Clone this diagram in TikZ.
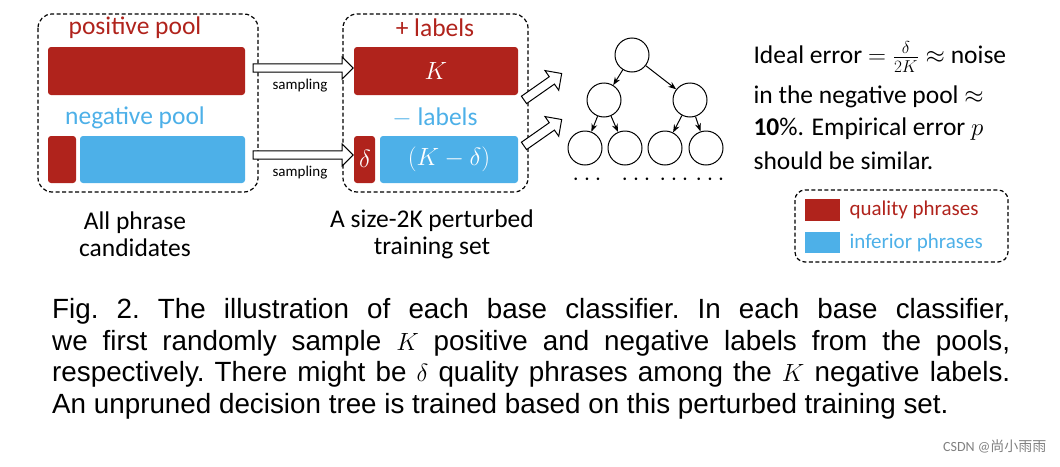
\documentclass[tikz,border=0pt]{standalone}
\usepackage{fontspec}
\setmainfont{Carlito}
\newfontfamily\capf{Liberation Sans}
\newfontfamily\cjk{Noto Sans CJK SC}
\usetikzlibrary{arrows.meta,shapes.arrows}
\definecolor{qred}{RGB}{176,35,28}
\definecolor{iblue}{RGB}{77,176,232}
\begin{document}
\begin{tikzpicture}[x=1pt,y=-1pt,
  dbox/.style={draw,dash pattern=on 4pt off 2.5pt,rounded corners=14pt,line width=1.2pt},
  bar/.style={rounded corners=3pt},
  lbl/.style={font=\fontsize{25.5}{28}\selectfont},
  hollow/.style={draw,line width=1pt,fill=white,single arrow,single arrow head extend=5pt,minimum height=#1,inner sep=2.5pt,single arrow tip angle=90},
  samp/.style={font=\fontsize{15}{17}\selectfont},
  tn/.style={circle,draw,line width=1pt,minimum size=34pt,inner sep=0},
  te/.style={-{Stealth[length=8pt]},line width=1pt},
  dots/.style={font=\fontsize{26}{28}\selectfont}]
\useasboundingbox (0,0) rectangle (1060,466);
% left box
\draw[dbox] (38,14) rectangle (258,192);
\node[lbl,text=qred] (pp) at (135,28) {positive pool};
\fill[qred,bar] (48,47) rectangle (245,95);
\node[lbl,text=iblue] (np) at (135,118) {negative pool};
\fill[qred,bar] (48,136) rectangle (76,183);
\fill[iblue,bar] (80,136) rectangle (245,183);
\node[lbl,align=center] (all) at (135,234) {All phrase\\[-1pt]candidates};
% middle box
\draw[dbox] (343,14) rectangle (528,192);
\node[lbl,text=qred] (pl) at (435,28) {+ labels};
\fill[qred,bar] (354,47) rectangle (518,95);
\node[lbl,text=white] (k) at (436,71) {$K$};
\node[lbl,text=iblue] (ml) at (435,118) {$-$ labels};
\fill[qred,bar] (354,136) rectangle (375,183);
\node[lbl,text=white] (d) at (365,159) {$\delta$};
\fill[iblue,bar] (380,136) rectangle (518,183);
\node[lbl,text=white] (kd) at (449,159) {$(K-\delta)$};
\node[lbl,align=center] (ts) at (432,234) {A size-2K perturbed\\[-1pt]training set};
% sampling arrows
\node[hollow=100pt,minimum width=22pt] (a1) at (301,68) {};
\node[samp] (s1) at (300,86) {sampling};
\node[hollow=100pt,minimum width=22pt] (a2) at (301,155) {};
\node[samp] (s2) at (300,173) {sampling};
\node[hollow=46pt,minimum width=24pt,rotate=35] (a3) at (541,88) {};
\node[hollow=46pt,minimum width=24pt,rotate=35] (a4) at (541,134) {};
% tree
\node[tn] (r) at (632,55) {};
\node[tn] (l) at (604,100) {};
\node[tn] (rr) at (690,100) {};
\node[tn] (l1) at (585,148) {};
\node[tn] (l2) at (625,148) {};
\node[tn] (l3) at (665,148) {};
\node[tn] (l4) at (706,148) {};
\draw[te] (r) -- (l); \draw[te] (r) -- (rr);
\draw[te] (l) -- (l1); \draw[te] (l) -- (l2);
\draw[te] (rr) -- (l3); \draw[te] (rr) -- (l4);
\node[dots] (d1) at (587,180) {$\cdots$};
\node[dots] (d2) at (636,180) {$\cdots$};
\node[dots] (d3) at (674,180) {$\cdots$};
\node[dots] (d4) at (710,180) {$\cdots$};
% text
\node[lbl,anchor=west] (t1) at (750,57) {Ideal error $=\frac{\delta}{2K}\approx$ noise};
\node[lbl,anchor=west] (t2) at (750,97) {in the negative pool $\approx$};
\node[lbl,anchor=west] (t3) at (750,129) {$\mathbf{10}$\%. Empirical error $p$};
\node[lbl,anchor=west] (t4) at (750,161) {should be similar.};
% legend
\draw[dbox,rounded corners=10pt] (795,190) rectangle (1008,262);
\fill[qred] (805,199) rectangle (840,221);
\node[font=\fontsize{21}{23}\selectfont,text=qred,anchor=west] (q) at (846,210) {quality phrases};
\fill[iblue] (805,232) rectangle (840,253);
\node[font=\fontsize{21}{23}\selectfont,text=iblue,anchor=west] (i) at (846,243) {inferior phrases};
% caption
\node[anchor=north west,inner sep=0,text width=958pt,align=justify,font=\capf\fontsize{27.8}{31.8}\selectfont\frenchspacing] (cap) at (52,298)
{Fig. 2. The illustration of each base classifier. In each base classifier,\linebreak we first randomly sample $K$ positive and negative labels from the pools,\linebreak respectively. There might be $\delta$ quality phrases among the $K$ negative labels.\linebreak An unpruned decision tree is trained based on this perturbed training set.};
\node[anchor=east,text=gray,font=\fontsize{14}{16}\selectfont] (wm) at (1050,446) {CSDN @{\cjk 尚小雨雨}};
\end{tikzpicture}
\end{document}
